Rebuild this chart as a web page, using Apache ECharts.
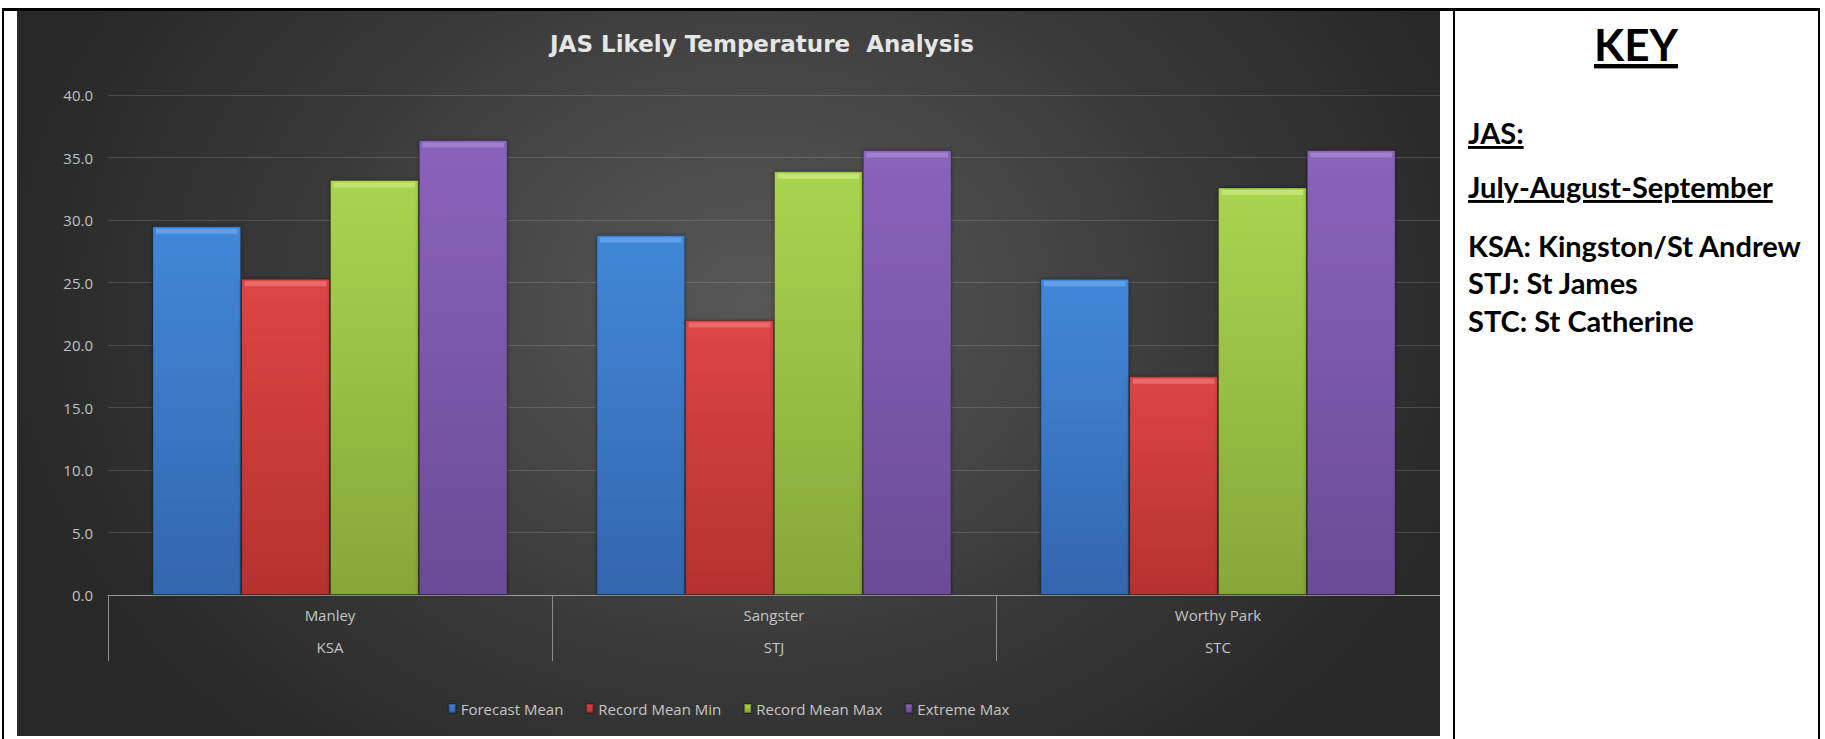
<!DOCTYPE html>
<html>
<head>
<meta charset="utf-8">
<script src="https://cdn.jsdelivr.net/npm/echarts@6/dist/echarts.min.js"></script>
<style>
  html, body { margin: 0; padding: 0; background: #ffffff; width: 1825px; height: 739px; overflow: hidden; }
  .rule { position: absolute; background: #000; }
  #chart {
    position: absolute; left: 17px; top: 11px; width: 1423px; height: 725px;
    background: radial-gradient(ellipse 760px 600px at 735px 290px, #575757 0%, #4a4a4a 30%, #383838 62%, #282828 100%);
  }
  #key { position: absolute; left: 1455px; top: 11px; width: 363px; height: 728px; }
  #key text { font-family: Lato, "Open Sans", sans-serif; font-weight: 700; fill: #000; }
</style>
</head>
<body>
<div class="rule" style="left:2px;top:8px;width:1818px;height:3px;"></div>
<div class="rule" style="left:2px;top:8px;width:2px;height:731px;"></div>
<div class="rule" style="left:1453px;top:8px;width:2px;height:731px;"></div>
<div class="rule" style="left:1818px;top:8px;width:2px;height:731px;"></div>

<div id="chart"></div>

<svg id="key" width="363" height="728" xmlns="http://www.w3.org/2000/svg">
  <text x="181" y="50" text-anchor="middle" font-size="44" text-decoration="underline">KEY</text>
  <text x="13" y="133" font-size="29" text-decoration="underline">JAS:</text>
  <text x="13" y="187" font-size="29" text-decoration="underline">July-August-September</text>
  <text x="13" y="246" font-size="29">KSA: Kingston/St Andrew</text>
  <text x="13" y="283" font-size="29">STJ: St James</text>
  <text x="13" y="321" font-size="29">STC: St Catherine</text>
</svg>

<script>
// Stations and the parish each one sits in
const stations = ['Manley', 'Sangster', 'Worthy Park'];
const parishes = ['KSA', 'STJ', 'STC'];

// Temperatures (°C) for July-August-September
const forecastMean  = [29.5, 28.8, 25.3];
const recordMeanMin = [25.3, 22.0, 17.5];
const recordMeanMax = [33.2, 33.9, 32.6];
const extremeMax    = [36.4, 35.6, 35.6];

const seriesNames = ['Forecast Mean', 'Record Mean Min', 'Record Mean Max', 'Extreme Max'];
const seriesData  = [forecastMean, recordMeanMin, recordMeanMax, extremeMax];

// y axis range and step
const yMin = 0, yMax = 40, yStep = 5;

// body gradient (top, bottom) and a lighter bevel tone for each series
const palette = [
  { top: '#4287d8', bottom: '#3366ad', bevel: '#66a3ec' },
  { top: '#dc4545', bottom: '#b5322f', bevel: '#ee7070' },
  { top: '#a9d44f', bottom: '#86a739', bevel: '#c8e67c' },
  { top: '#8a63bb', bottom: '#6a4b96', bevel: '#a486d2' }
];

const FONT = '"Open Sans", "Noto Sans", sans-serif';

function grad(c) {
  return {
    type: 'linear', x: 0, y: 0, x2: 0, y2: 1,
    colorStops: [{ offset: 0, color: c.top }, { offset: 1, color: c.bottom }]
  };
}

const series = [];
seriesData.forEach(function (data, i) {
  series.push({
    name: seriesNames[i],
    type: 'bar',
    data: data,
    barGap: '0%',
    barCategoryGap: '20%',
    itemStyle: {
      color: grad(palette[i]),
      borderColor: 'rgba(0,0,0,0.28)',
      borderWidth: 1,
      shadowColor: 'rgba(0,0,0,0.35)',
      shadowBlur: 4
    }
  });
});
// bevelled highlight along the top edge of each bar
seriesData.forEach(function (data, i) {
  series.push({
    name: seriesNames[i] + ' top',
    type: 'pictorialBar',
    data: data,
    silent: true,
    barGap: '0%',
    barCategoryGap: '20%',
    symbol: 'rect',
    symbolPosition: 'end',
    symbolSize: ['92%', 5],
    symbolOffset: [0, '50%'],
    itemStyle: { color: palette[i].bevel, opacity: 0.85 },
    z: 3
  });
});

const chart = echarts.init(document.getElementById('chart'), null, { renderer: 'svg' });
chart.setOption({
  backgroundColor: 'transparent',
  animation: false,
  graphic: [{
    type: 'text',
    x: 745,
    y: 33,
    silent: true,
    style: {
      text: 'JAS Likely Temperature  Analysis',
      align: 'center',
      verticalAlign: 'middle',
      fontFamily: '"DejaVu Sans", "Open Sans", sans-serif',
      fontSize: 23,
      fontWeight: 'bold',
      fill: '#e6e6e6'
    }
  }],
  legend: {
    data: seriesNames,
    left: 'center',
    top: 685,
    icon: 'rect',
    itemWidth: 7,
    itemHeight: 9,
    itemGap: 22,
    textStyle: { fontFamily: FONT, fontSize: 15, color: '#c6c6c6' }
  },
  grid: { left: 91, right: 0, top: 84, bottom: 141, containLabel: false },
  xAxis: {
    type: 'category',
    data: stations,
    boundaryGap: true,
    axisLine: { lineStyle: { color: '#9a9a9a', width: 1 } },
    axisTick: { show: true, interval: 0, length: 66, lineStyle: { color: '#8c8c8c', width: 1 } },
    axisLabel: {
      interval: 0,
      margin: 4,
      lineHeight: 32,
      fontFamily: FONT,
      fontSize: 15,
      color: '#c4c4c4',
      formatter: function (v, idx) { return v + '\n' + parishes[idx]; }
    }
  },
  yAxis: {
    type: 'value',
    min: yMin,
    max: yMax,
    interval: yStep,
    axisLine: { show: false },
    axisTick: { show: false },
    axisLabel: {
      margin: 15,
      fontFamily: FONT,
      fontSize: 15,
      color: '#c0c0c0',
      formatter: function (v) { return v.toFixed(1); }
    },
    splitLine: { lineStyle: { color: 'rgba(255,255,255,0.15)', width: 1 } }
  },
  series: series
});
</script>
</body>
</html>
